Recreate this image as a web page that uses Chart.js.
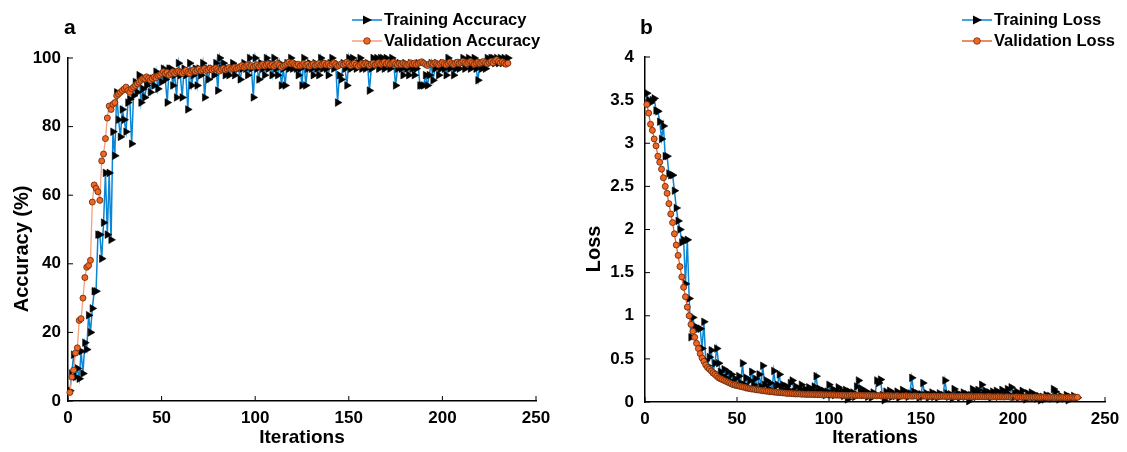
<!DOCTYPE html>
<html>
<head>
<meta charset="utf-8">
<title>Accuracy and loss</title>
<script src="https://cdn.jsdelivr.net/npm/chart.js@4.4.1/dist/chart.umd.min.js"></script>
<style>
  body { margin: 0; width: 1127px; height: 452px; background: #fff; position: relative; overflow: hidden; font-family: "Liberation Sans", Arial, sans-serif; }
  .panel { position: absolute; top: 0; height: 452px; }
  .tag { position: absolute; font-weight: bold; font-size: 21px; line-height: 21px; }
  .legend { position: absolute; font-weight: bold; font-size: 16.5px; }
  .legend div { display: flex; align-items: center; height: 21px; }
  .legend svg { margin-right: 2px; }
</style>
</head>
<body>
<div class="panel" style="left:0;width:560px"><canvas id="accChart"></canvas></div>
<div class="panel" style="left:565px;width:562px"><canvas id="lossChart"></canvas></div>

<div class="tag" style="left:64px;top:16px">a</div>
<div class="tag" style="left:640px;top:16px">b</div>

<div class="legend" style="left:352px;top:9px">
  <div><svg width="30" height="12"><line x1="0" y1="6" x2="30" y2="6" stroke="#0a86d4" stroke-width="1.5"/><polygon points="11,1.5 20,6 11,10.5" fill="#000"/></svg>Training Accuracy</div>
  <div><svg width="30" height="12"><line x1="0" y1="6" x2="30" y2="6" stroke="#f4a07c" stroke-width="1.5"/><circle cx="15" cy="6" r="3.3" fill="#f26522" stroke="#6b3010" stroke-width="0.8"/></svg>Validation Accuracy</div>
</div>
<div class="legend" style="left:962px;top:9px">
  <div><svg width="30" height="12"><line x1="0" y1="6" x2="30" y2="6" stroke="#0a86d4" stroke-width="1.5"/><polygon points="11,1.5 20,6 11,10.5" fill="#000"/></svg>Training Loss</div>
  <div><svg width="30" height="12"><line x1="0" y1="6" x2="30" y2="6" stroke="#e8642c" stroke-width="1.5"/><circle cx="15" cy="6" r="3.3" fill="#f26522" stroke="#6b3010" stroke-width="0.8"/></svg>Validation Loss</div>
</div>

<script>
// values, one per iteration (1..235)
const trainAcc = [
  3,8,13.5,7,9.5,6.5,14.5,8,17,15,
  25,20,27,32,32,48.5,48.5,41.5,52,66.5,
  48.5,66.5,47,78.5,71.5,90,82,77,85,82,
  78.5,87,88,75,89,93,90,95,87,91,
  88.5,92,93,90,94,92,96,91,95,93,
  96.9,93.75,87,96.9,96.9,92,95,88.5,98.5,95,
  88.5,96.9,95,85,98.5,92,95,96.9,92,96.9,
  95,98.5,88.5,96.9,93.75,96.9,96.9,95,98.5,90.5,
  100,96.9,98.5,95,96.9,95,96.9,98.5,95,96.9,
  96.9,93.75,96.9,98.5,96.9,95,100,96.9,88.5,100,
  96.9,93.75,98.5,96.9,95,100,96.9,98.5,95,100,
  96.9,95,98.5,92,96.9,92,98.5,96.9,100,96.9,
  98.5,96.9,95,96.9,92,100,92,96.9,98.5,96.9,
  95,98.5,96.9,95,100,96.9,98.5,96.9,95,98.5,
  100,96.9,98.5,87,95,93.75,98.5,96.9,92,100,
  96.9,100,98.5,96.9,98.5,100,96.9,98.5,96.9,98.5,
  90.5,96.9,100,98.5,100,96.9,100,100,96.9,100,
  98.5,96.9,100,98.5,92,96.9,98.5,96.9,95,98.5,
  96.9,95,98.5,96.9,95,96.9,98.5,92,92,92,
  95,92,95,98.5,93.5,96.9,98.5,95,96.9,98.5,
  96.9,95,100,96.9,98.5,95,96.9,98.5,96.9,98.5,
  100,96.9,98.5,100,96.9,98.5,100,96.9,93.5,98.5,
  96.9,98.5,96.9,100,98.5,100,100,98.5,100,98.5,
  100,98.5,100,98.5,100
];
const valAcc = [
  2.5,7,9,14,15.5,23.5,24,30,36,39,
  39.5,41,58,63,62,61,58.5,70,72,76.5,
  82.5,86,85,86.5,87,89,89.5,90,90.5,91,
  91.5,90.5,90,91,91.5,92,92.5,93,93.5,94,
  94,94.5,94,93.5,94,94.5,94.2,94.8,95,95.5,
  96,95.5,95.8,95,95.5,96,95.5,96,96.2,95.8,
  95.5,96,96.4,95.8,95.5,96.2,96.5,96,96.4,96.8,
  96.2,96.5,96.9,96.3,96.6,97,96.5,96.8,97.1,96.6,
  96.2,96.7,97,96.5,96.8,97.2,96.7,97,97.3,96.9,
  97.2,97.5,97.8,97.3,97.6,98,97.5,97.8,97.4,97.7,
  98,97.5,97.9,98.2,97.7,98,98.3,97.8,98.1,97.6,
  98,98.4,97.9,97.3,97.7,98,98.4,98.8,98.3,98.6,
  98.1,97.8,98.2,97.7,98,98.4,97.9,98.2,97.6,98,
  98.3,97.8,98.1,98.4,97.9,98.2,98.5,98,98.3,97.8,
  98.2,98.6,98.1,97.6,97.9,98.3,98,98.4,98.8,98.3,
  97.8,98.2,98.5,98,97.6,98,98.4,98.1,98.5,98.2,
  97.8,98.2,98.5,98,98.3,98.6,98.2,98.5,98.8,98.3,
  98.6,98.2,98.5,98.8,98.3,98,98.4,98.1,98.5,98.2,
  97.9,98.3,98.6,98.2,98.5,98.1,98.4,98.7,98.9,98.5,
  98.1,97.8,98.2,98.5,98.2,98.6,98.3,98,98.4,98.7,
  98.3,98,98.4,98.8,98.4,98.1,98.5,98.8,98.4,98.7,
  99,98.6,98.3,98.7,99,98.6,98.2,98.5,98.8,98.4,
  98.7,99,98.6,98.3,98.7,99,98.6,99.2,99.5,99,
  98.6,98.9,98.5,98.2,98.5
];
const trainLoss = [
  3.58,3.5,3.47,3.5,3.52,3.38,3.37,3.25,3.05,3.2,
  2.85,2.85,2.65,2.63,2.63,2.45,2.25,2.1,2.0,1.85,
  1.88,1.37,1.88,1.2,0.75,0.98,0.87,0.87,0.85,0.85,
  0.62,0.93,0.48,0.42,0.52,0.6,0.35,0.45,0.62,0.45,
  0.35,0.3,0.38,0.28,0.35,0.25,0.32,0.22,0.27,0.2,
  0.3,0.22,0.45,0.2,0.28,0.17,0.25,0.35,0.2,0.27,
  0.15,0.32,0.18,0.42,0.2,0.25,0.15,0.22,0.13,0.36,
  0.18,0.2,0.32,0.15,0.2,0.12,0.18,0.14,0.22,0.25,
  0.12,0.18,0.1,0.15,0.2,0.12,0.15,0.1,0.17,0.12,
  0.14,0.18,0.3,0.12,0.15,0.1,0.13,0.08,0.12,0.2,
  0.1,0.15,0.08,0.12,0.17,0.1,0.13,0.07,0.14,0.03,
  0.12,0.08,0.11,0.06,0.18,0.25,0.12,0.15,0.08,0.12,
  0.06,0.1,0.05,0.11,0.08,0.25,0.22,0.26,0.08,0.02,
  0.12,0.09,0.13,0.06,0.1,0.07,0.12,0.05,0.09,0.14,
  0.08,0.11,0.06,0.1,0.28,0.12,0.08,0.1,0.05,0.09,
  0.22,0.08,0.1,0.05,0.08,0.11,0.06,0.09,0.05,0.1,
  0.07,0.08,0.25,0.1,0.06,0.09,0.04,0.15,0.07,0.1,
  0.05,0.08,0.11,0.06,0.09,0.01,0.08,0.15,0.12,0.06,
  0.14,0.09,0.2,0.1,0.13,0.07,0.11,0.05,0.12,0.08,
  0.13,0.06,0.1,0.14,0.07,0.11,0.15,0.08,0.17,0.06,
  0.1,0.12,0.05,0.09,0.13,0.06,0.03,0.1,0.07,0.11,
  0.05,0.08,0.04,0.07,0.02,0.06,0.03,0.08,0.05,0.07,
  0.04,0.15,0.12,0.06,0.03,0.07,0.05,0.04,0.08,0.02,
  0.06,0.04,0.07,0.05,0.05
];
const valLoss = [
  3.45,3.35,3.22,3.15,3.05,2.97,2.85,2.78,2.7,2.6,
  2.5,2.42,2.3,2.18,2.08,1.95,1.82,1.7,1.57,1.45,
  1.33,1.22,1.1,1.0,0.9,0.82,0.75,0.68,0.62,0.56,
  0.51,0.47,0.43,0.4,0.38,0.36,0.34,0.32,0.3,0.28,
  0.27,0.26,0.25,0.24,0.23,0.22,0.21,0.2,0.2,0.19,
  0.185,0.18,0.175,0.17,0.165,0.16,0.155,0.15,0.15,0.145,
  0.14,0.14,0.135,0.13,0.13,0.125,0.125,0.12,0.12,0.115,
  0.115,0.11,0.11,0.108,0.105,0.105,0.1,0.1,0.1,0.098,
  0.095,0.097,0.093,0.095,0.09,0.092,0.09,0.088,0.09,0.087,
  0.088,0.085,0.087,0.084,0.086,0.083,0.085,0.082,0.084,0.08,
  0.083,0.08,0.082,0.079,0.081,0.078,0.08,0.077,0.079,0.076,
  0.078,0.08,0.076,0.079,0.075,0.078,0.074,0.077,0.075,0.073,
  0.076,0.074,0.072,0.075,0.073,0.071,0.074,0.072,0.07,0.073,
  0.071,0.074,0.07,0.072,0.069,0.071,0.073,0.07,0.068,0.071,
  0.069,0.072,0.068,0.07,0.067,0.069,0.071,0.068,0.066,0.069,
  0.067,0.07,0.066,0.068,0.065,0.067,0.069,0.066,0.064,0.067,
  0.065,0.068,0.064,0.066,0.063,0.065,0.067,0.064,0.062,0.065,
  0.063,0.066,0.062,0.064,0.061,0.063,0.065,0.062,0.06,0.063,
  0.061,0.064,0.06,0.062,0.059,0.061,0.063,0.06,0.058,0.061,
  0.059,0.062,0.058,0.06,0.057,0.059,0.061,0.058,0.056,0.059,
  0.057,0.06,0.056,0.058,0.055,0.057,0.059,0.056,0.054,0.057,
  0.055,0.058,0.054,0.056,0.053,0.055,0.057,0.054,0.052,0.055,
  0.053,0.056,0.052,0.054,0.051,0.053,0.055,0.052,0.05,0.053,
  0.051,0.054,0.05,0.052,0.055
];
const iterations = trainAcc.map((v, i) => i + 1);
const xTicks = [0, 50, 100, 150, 200, 250];

const FONT = '"Liberation Sans", Arial, sans-serif';
const BLUE = '#0a86d4';
const MARK_FILL = '#f26522';
const MARK_EDGE = '#6b3010';

function toPoints(values) {
    return values.map((v, i) => ({ x: iterations[i], y: v }));
}

// matlab-style ticks pointing into the plot
const innerTicks = {
    id: 'innerTicks',
    afterDatasetsDraw(chart) {
        const { ctx, chartArea, scales } = chart;
        ctx.save();
        ctx.strokeStyle = '#000';
        ctx.lineWidth = 1;
        ctx.beginPath();
        scales.x.ticks.forEach(t => {
            const px = scales.x.getPixelForValue(t.value);
            ctx.moveTo(px, chartArea.bottom);
            ctx.lineTo(px, chartArea.bottom - 5);
        });
        scales.y.ticks.forEach(t => {
            const py = scales.y.getPixelForValue(t.value);
            ctx.moveTo(chartArea.left, py);
            ctx.lineTo(chartArea.left + 5, py);
        });
        ctx.stroke();
        ctx.restore();
    }
};

function trainSet(label, values) {
    return {
        label: label,
        data: toPoints(values),
        borderColor: BLUE,
        borderWidth: 1.5,
        pointStyle: 'triangle',
        pointRotation: 90,
        pointRadius: 4.4,
        pointBackgroundColor: '#000',
        pointBorderColor: '#000',
        pointBorderWidth: 0.6,
        tension: 0,
        clip: false,
        order: 2
    };
}

function valSet(label, values, lineColor) {
    return {
        label: label,
        data: toPoints(values),
        borderColor: lineColor,
        borderWidth: 1.3,
        pointStyle: 'circle',
        pointRadius: 3,
        pointBackgroundColor: MARK_FILL,
        pointBorderColor: MARK_EDGE,
        pointBorderWidth: 0.9,
        tension: 0,
        clip: false,
        order: 1
    };
}

function makeOptions(cfg) {
    return {
        responsive: true,
        maintainAspectRatio: false,
        animation: false,
        layout: { padding: { top: cfg.top, right: cfg.right, bottom: 0, left: 0 } },
        plugins: { legend: { display: false }, tooltip: { enabled: false } },
        scales: {
            x: {
                type: 'linear',
                min: 0,
                max: 250,
                afterBuildTicks: s => { s.ticks = xTicks.map(v => ({ value: v })); },
                ticks: { color: '#000', font: { family: FONT, size: 17, weight: 'bold' }, padding: 7, maxRotation: 0 },
                grid: { display: true, drawOnChartArea: false, drawTicks: false },
                border: { color: '#000', width: 1.5 },
                title: { display: true, text: 'Iterations', color: '#000', font: { family: FONT, size: 19, weight: 'bold' }, padding: { top: 0, bottom: 3 } },
                afterFit: s => { s.height = 452 - cfg.bottomY; }
            },
            y: {
                min: cfg.yMin,
                max: cfg.yMax,
                afterBuildTicks: s => { s.ticks = cfg.yTicks.map(v => ({ value: v })); },
                ticks: { color: '#000', font: { family: FONT, size: 17, weight: 'bold' }, padding: cfg.tickPad, callback: v => v },
                grid: { display: true, drawOnChartArea: false, drawTicks: false },
                border: { color: '#000', width: 1.5 },
                title: { display: true, text: cfg.yTitle, color: '#000', font: { family: FONT, size: 20, weight: 'bold' }, padding: { top: cfg.titlePad, bottom: 0 } },
                afterFit: s => { s.width = cfg.yWidth; }
            }
        }
    };
}

new Chart(document.getElementById('accChart'), {
    type: 'line',
    data: {
        datasets: [
            trainSet('Training Accuracy', trainAcc),
            valSet('Validation Accuracy', valAcc, '#f4a07c')
        ]
    },
    options: makeOptions({
        top: 58, right: 24, bottomY: 401, yWidth: 68, tickPad: 7, titlePad: 10,
        yMin: 0, yMax: 100, yTicks: [0, 20, 40, 60, 80, 100], yTitle: 'Accuracy (%)       '
    }),
    plugins: [innerTicks]
});

new Chart(document.getElementById('lossChart'), {
    type: 'line',
    data: {
        datasets: [
            trainSet('Training Loss', trainLoss),
            valSet('Validation Loss', valLoss, '#e8642c')
        ]
    },
    options: makeOptions({
        top: 57, right: 22, bottomY: 402, yWidth: 80, tickPad: 11, titlePad: 17,
        yMin: 0, yMax: 4, yTicks: [0, 0.5, 1, 1.5, 2, 2.5, 3, 3.5, 4], yTitle: 'Loss       '
    }),
    plugins: [innerTicks]
});
</script>
</body>
</html>
